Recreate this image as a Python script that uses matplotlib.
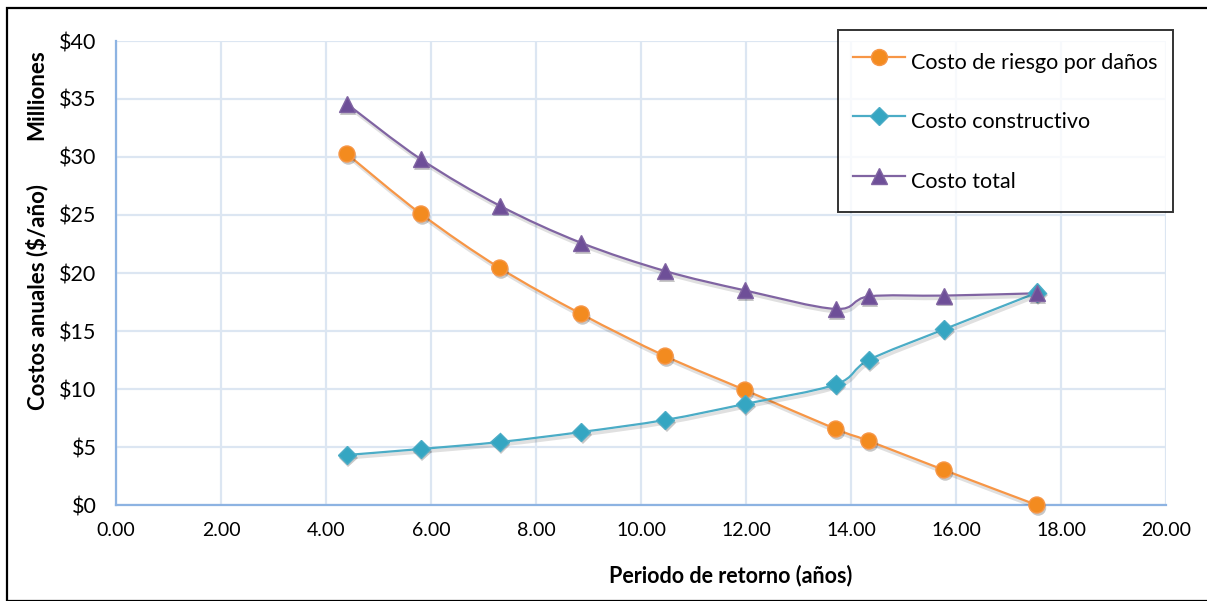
import matplotlib
matplotlib.use("Agg")
import matplotlib.pyplot as plt
import matplotlib.patheffects as pe
from matplotlib.path import Path
from matplotlib.patches import PathPatch, Rectangle
import numpy as np

plt.rcParams['font.family'] = ['Lato', 'DejaVu Sans']

# Return period (years) and annual costs (millions of $/year)
periodo = [4.40, 5.81, 7.31, 8.86, 10.46, 11.98, 13.71, 14.34, 15.77, 17.54]
costo_riesgo = [30.26, 25.09, 20.43, 16.47, 12.84, 9.91, 6.55, 5.52, 3.02, 0.0]
costo_constructivo = [4.31, 4.83, 5.43, 6.29, 7.33, 8.71, 10.40, 12.50, 15.14, 18.30]
costo_total = [34.57, 29.80, 25.80, 22.60, 20.17, 18.50, 16.90, 17.98, 18.05, 18.25]

series_names = ["Costo de riesgo por daños", "Costo constructivo", "Costo total"]
x_ticks = [0, 2, 4, 6, 8, 10, 12, 14, 16, 18, 20]
y_ticks = [0, 5, 10, 15, 20, 25, 30, 35, 40]

colors = ["#F79646", "#4BACC6", "#8064A2"]
marker_face = ["#F38B1F", "#35A6C2", "#6E4F98"]
markers = ["o", "D", "^"]
msizes = [11.5, 9.5, 11.5]


def smooth_path(x, y):
    """Cubic Bezier path through the points (Catmull-Rom style smoothing)."""
    pts = np.column_stack([x, y]).astype(float)
    n = len(pts)
    verts = [pts[0]]
    codes = [Path.MOVETO]
    for i in range(n - 1):
        p0 = pts[i - 1] if i > 0 else pts[i]
        p1 = pts[i]
        p2 = pts[i + 1]
        p3 = pts[i + 2] if i + 2 < n else pts[i + 1]
        c1 = p1 + (p2 - p0) / 6.0
        c2 = p2 - (p3 - p1) / 6.0
        verts += [c1, c2, p2]
        codes += [Path.CURVE4] * 3
    return Path(verts, codes)


fig = plt.figure(figsize=(12.07, 6.01), dpi=100)
ax = fig.add_axes([116 / 1207, 1 - 505 / 601, (1166 - 116) / 1207, (505 - 41) / 601])

ax.set_xlim(0, 20)
ax.set_ylim(0, 40)
ax.set_xticks(x_ticks)
ax.set_yticks(y_ticks)
ax.set_xticklabels([f"{v:.2f}" for v in x_ticks])
ax.set_yticklabels([f"${v}" for v in y_ticks])
ax.tick_params(axis='both', length=0, colors="#000000")
ax.tick_params(axis='x', pad=12, labelsize=14)
ax.tick_params(axis='y', pad=14, labelsize=15.5)

ax.grid(True, color="#DCE6F2", linewidth=1.6)
ax.set_axisbelow(True)
for side in ["top", "right"]:
    ax.spines[side].set_visible(False)
for side in ["left", "bottom"]:
    ax.spines[side].set_color("#8DB3E2")
    ax.spines[side].set_linewidth(1.6)

line_shadow = [pe.SimpleLineShadow(offset=(1.0, -2.0), alpha=0.12, shadow_color="black", linewidth=2.5), pe.Normal()]
marker_shadow = [pe.SimplePatchShadow(offset=(1.0, -2.0), alpha=0.22, shadow_rgbFace="black"), pe.Normal()]

data = [costo_riesgo, costo_constructivo, costo_total]
handles = []
for vals, c, mf, m, ms, name in zip(data, colors, marker_face, markers, msizes, series_names):
    patch = PathPatch(smooth_path(periodo, vals), facecolor="none", edgecolor=c,
                      linewidth=1.6, zorder=3, path_effects=line_shadow)
    ax.add_patch(patch)
    ax.plot(periodo, vals, linestyle="none", marker=m, markersize=ms,
            markerfacecolor=mf, markeredgecolor=c, markeredgewidth=1.0,
            zorder=4, clip_on=False, path_effects=marker_shadow)
    h, = ax.plot([], [], color=c, linewidth=1.6, marker=m, markersize=ms,
                 markerfacecolor=mf, markeredgecolor=c, label=name)
    handles.append(h)

leg = fig.legend(handles=handles, loc="upper left",
                 bbox_to_anchor=(838 / 1207, 1 - 30 / 601), fontsize=15.5,
                 frameon=True, fancybox=False, edgecolor="black",
                 handlelength=2.4, handleheight=2.0, handletextpad=0.3,
                 labelspacing=1.22, borderpad=0.7, borderaxespad=0.0)
leg.get_frame().set_linewidth(1.4)
leg.get_frame().set_facecolor("white")

fig.text(731 / 1207, 1 - 576 / 601, "Periodo de retorno (años)",
         ha="center", va="center", fontsize=15.5, fontweight="bold")
fig.text(37 / 1207, 1 - 297 / 601, "Costos anuales ($/año)", rotation=90,
         ha="center", va="center", fontsize=16, fontweight="bold")
fig.text(37 / 1207, 1 - 95 / 601, "Milliones", rotation=90,
         ha="center", va="center", fontsize=16, fontweight="bold")

# Outer frame around the chart area
fig.patches.append(Rectangle((7 / 1207, 0), 1.2, 1 - 8 / 601, transform=fig.transFigure,
                             fill=False, edgecolor="black", linewidth=1.6))

fig.savefig("out.png", dpi=100)
